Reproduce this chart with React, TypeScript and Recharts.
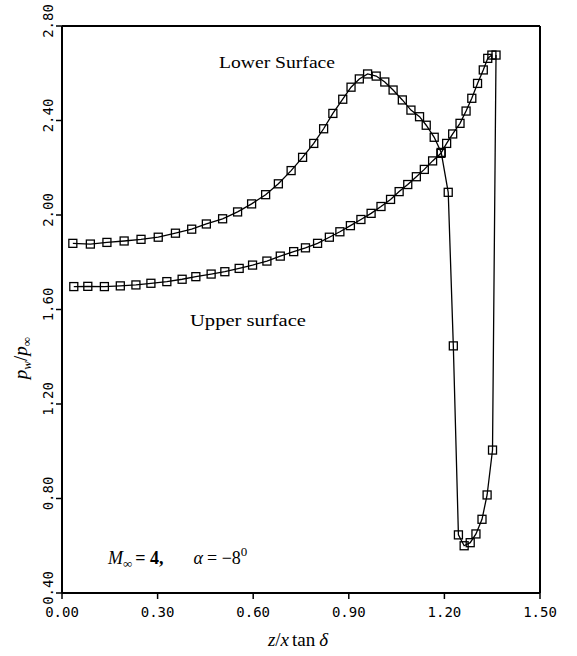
import React from "react";
import {
  LineChart,
  Line,
  XAxis,
  YAxis,
  ReferenceLine,
  Customized,
} from "recharts";

// z/x tan(delta) and p_w/p_inf
const lowerX = [
  0.034, 0.089, 0.141, 0.195, 0.248, 0.302, 0.356, 0.407, 0.453, 0.504, 0.551,
  0.595, 0.639, 0.679, 0.719, 0.755, 0.79, 0.821, 0.85, 0.881, 0.907, 0.933,
  0.959, 0.986, 1.013, 1.039, 1.068, 1.095, 1.122, 1.143, 1.168, 1.19, 1.212,
  1.228, 1.244, 1.262, 1.281, 1.299, 1.318, 1.334, 1.351, 1.362,
];
const lowerP = [
  1.88, 1.877, 1.884, 1.89, 1.897, 1.906, 1.923, 1.94, 1.962, 1.984, 2.013,
  2.047, 2.086, 2.132, 2.188, 2.244, 2.303, 2.365, 2.43, 2.49, 2.541, 2.576,
  2.597, 2.588, 2.563, 2.529, 2.487, 2.444, 2.416, 2.38, 2.329, 2.265, 2.096,
  1.446, 0.646, 0.6, 0.613, 0.65, 0.712, 0.815, 1.005, 2.677,
];

const upperX = [
  0.037, 0.081, 0.133, 0.183, 0.232, 0.279, 0.329, 0.377, 0.42, 0.468, 0.511,
  0.556, 0.598, 0.643, 0.685, 0.727, 0.764, 0.802, 0.839, 0.872, 0.905, 0.938,
  0.97, 1.001, 1.031, 1.058, 1.085, 1.112, 1.137, 1.163, 1.189, 1.207, 1.226,
  1.249, 1.268, 1.286, 1.304, 1.322, 1.336, 1.349,
];
const upperP = [
  1.697, 1.698, 1.697, 1.7, 1.704, 1.711, 1.718, 1.728, 1.739, 1.75, 1.76,
  1.774, 1.788, 1.805, 1.826, 1.845, 1.861, 1.88, 1.906, 1.929, 1.955, 1.981,
  2.007, 2.036, 2.066, 2.099, 2.129, 2.162, 2.193, 2.229, 2.261, 2.303, 2.343,
  2.388, 2.44, 2.494, 2.557, 2.614, 2.663, 2.677,
];

const xTicks = [0, 0.3, 0.6, 0.9, 1.2, 1.5];
const yTicks = [0.4, 0.8, 1.2, 1.6, 2.0, 2.4, 2.8];

const lower = lowerX.map((x, i) => ({ x, p: lowerP[i] }));
const upper = upperX.map((x, i) => ({ x, p: upperP[i] }));

const TICK_FONT = "'DejaVu Sans Mono', monospace";
const SERIF = "'Liberation Serif', 'DejaVu Serif', serif";

const SquareDot = (props: any) => {
  const { cx, cy, index } = props;
  if (cx == null || cy == null) return null;
  return (
    <rect
      key={`sq-${index}`}
      x={cx - 4}
      y={cy - 4}
      width={8}
      height={8}
      fill="none"
      stroke="#000"
      strokeWidth={1.3}
    />
  );
};

const RotatedTick = (props: any) => {
  const { x, y, payload } = props;
  return (
    <text
      x={x - 1}
      y={y - 5}
      transform={`rotate(-90, ${x - 1}, ${y - 5})`}
      textAnchor="middle"
      fontFamily={TICK_FONT}
      fontSize={14}
      fill="#000"
    >
      {Number(payload.value).toFixed(2)}
    </text>
  );
};

// free text on the plot: curve names, flow conditions, axis titles
const Annotations = () => (
  <g fill="#000" fontFamily={SERIF}>
    <text x={219} y={68} fontSize={16.5} textLength={116} lengthAdjust="spacingAndGlyphs">
      Lower Surface
    </text>
    <text x={190} y={326} fontSize={16.5} textLength={116} lengthAdjust="spacingAndGlyphs">
      Upper surface
    </text>
    <text x={108} y={564} fontSize={18}>
      <tspan fontStyle="italic">M</tspan>
      <tspan fontSize={13} dy={4}>∞</tspan>
      <tspan dy={-4} fontWeight="bold" dx={3}>= 4,</tspan>
      <tspan dx={30} fontStyle="italic">α</tspan>
      <tspan dx={4}>= −8</tspan>
      <tspan fontSize={13} dy={-8}>0</tspan>
    </text>
    <text x={298} y={646} fontSize={19} textAnchor="middle">
      <tspan fontStyle="italic">z</tspan>
      <tspan>/</tspan>
      <tspan fontStyle="italic">x</tspan>
      <tspan dx={3}>tan</tspan>
      <tspan dx={4} fontStyle="italic">δ</tspan>
    </text>
    <text
      x={27}
      y={358}
      fontSize={19}
      textAnchor="middle"
      transform="rotate(-90, 27, 358)"
    >
      <tspan fontStyle="italic">p</tspan>
      <tspan fontStyle="italic" fontSize={13} dy={4}>w</tspan>
      <tspan dy={-4}>/</tspan>
      <tspan fontStyle="italic">p</tspan>
      <tspan fontSize={13} dy={4}>∞</tspan>
    </text>
  </g>
);

export default function App() {
  return (
    <div style={{ position: "absolute", left: 0, top: 0, width: 577, height: 656, background: "#fff" }}>
      <LineChart
        width={577}
        height={656}
        margin={{ top: 26, right: 37, left: 12, bottom: 33 }}
      >
        <XAxis
          dataKey="x"
          type="number"
          domain={[0, 1.5]}
          ticks={xTicks}
          allowDataOverflow
          height={30}
          tickFormatter={(v: number) => v.toFixed(2)}
          tick={{ fill: "#000", fontFamily: TICK_FONT, fontSize: 14 }}
          tickSize={6}
          tickMargin={8}
          axisLine={{ stroke: "#000", strokeWidth: 2 }}
          tickLine={{ stroke: "#000", strokeWidth: 1.5 }}
        />
        <YAxis
          type="number"
          domain={[0.4, 2.8]}
          ticks={yTicks}
          allowDataOverflow
          width={50}
          tick={<RotatedTick />}
          tickSize={6}
          tickMargin={2}
          axisLine={{ stroke: "#000", strokeWidth: 2 }}
          tickLine={{ stroke: "#000", strokeWidth: 1.5 }}
        />
        <ReferenceLine y={2.8} stroke="#000" strokeWidth={2} />
        <ReferenceLine x={1.5} stroke="#000" strokeWidth={2} />
        <Line
          data={lower}
          dataKey="p"
          type="linear"
          stroke="#000"
          strokeWidth={1.3}
          dot={<SquareDot />}
          isAnimationActive={false}
        />
        <Line
          data={upper}
          dataKey="p"
          type="linear"
          stroke="#000"
          strokeWidth={1.3}
          dot={<SquareDot />}
          isAnimationActive={false}
        />
        <Customized component={Annotations} />
      </LineChart>
    </div>
  );
}
